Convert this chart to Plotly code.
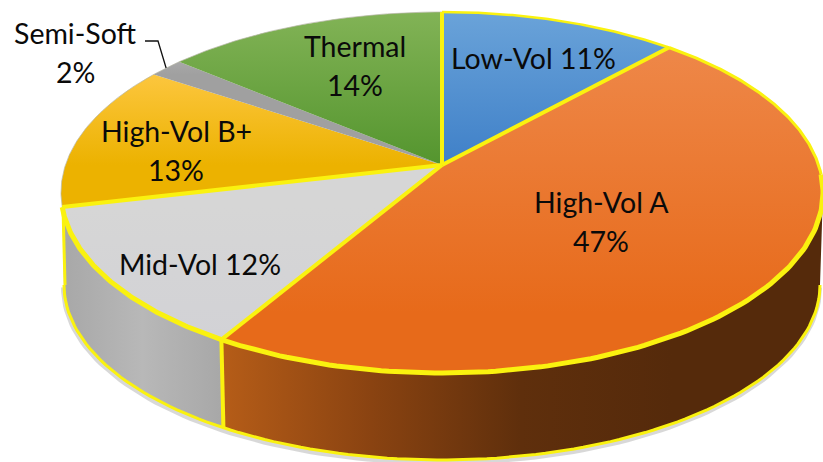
import numpy as np
import plotly.graph_objects as go

# ---- data ----
names = ["Low-Vol", "High-Vol A", "Mid-Vol", "High-Vol B+", "Semi-Soft", "Thermal"]
shares = [11.7, 46.8, 12.8, 13.1, 1.7, 13.9]   # drawn slice sizes
percent_labels = ["11%", "47%", "12%", "13%", "2%", "14%"]

top_start = ["#6AA3D9", "#EE8748", "#D6D6D6", "#FCC63E", "#A8A8A8", "#82B356"]
top_stop = ["#3F80C8", "#E76A1A", "#D2D2D6", "#ECB200", "#A0A0A0", "#54952E"]

# ---- projection of the tilted disc onto the page ----
CX, EY = 442.0, 192.5          # ellipse centre of the top face
A_AX, B_AX = 381.0, 180.5      # semi-axes of the top face
HUB_RISE = 27.5                # hub sits above the ellipse centre
K = HUB_RISE / B_AX
BOT_CY, BOT_A, BOT_B = 285.0, 378.0, 175.0
YELLOW = "#FAF20F"


def top_xy(theta):
    u, v = np.sin(theta), np.cos(theta)
    w = 1 + K * v
    x = CX + A_AX * np.sqrt(1 - K**2) * u / w
    y = EY - (B_AX * v + HUB_RISE) / w
    return x, y


def arc(a, b, n=120):
    return top_xy(np.linspace(a, b, n))


def bottom_arc(phi_a, phi_b, n=120):
    phi = np.linspace(phi_a, phi_b, n)
    return CX + BOT_A * np.cos(phi), BOT_CY + BOT_B * np.sin(phi)


def phi_of(theta):
    x, _ = top_xy(np.array([theta]))
    return float(np.arccos(np.clip((x[0] - CX) / BOT_A, -1, 1)))


total = sum(shares)
edges = 2 * np.pi * np.cumsum([0] + shares) / total
hub_x, hub_y = CX, EY - HUB_RISE
RIGHT_T = np.arccos(-K)

fig = go.Figure()


def poly(x, y, stops, kind, start, stop):
    fig.add_trace(go.Scatter(
        x=x, y=y, mode="lines", fill="toself", line=dict(width=0), hoverinfo="skip",
        fillgradient=dict(type=kind, start=start, stop=stop,
                          colorscale=[[i / (len(stops) - 1), c] for i, c in enumerate(stops)]),
    ))


def stroke(x, y, width, color=YELLOW, opacity=1.0):
    fig.add_trace(go.Scatter(x=x, y=y, mode="lines", hoverinfo="skip", opacity=opacity,
                             line=dict(color=color, width=width)))


# soft shadow under the rim
sx, sy = bottom_arc(0, np.pi)
stroke(sx - 0.5, sy + 2.5, 5, "#808080", 0.3)

# rim walls
split = edges[2]
left_end = edges[3]
phi_split = phi_of(split)
tx, ty = arc(RIGHT_T, split)
bx, by = bottom_arc(phi_split, 0)
poly(np.r_[tx, bx], np.r_[ty, by], ["#B65D18", "#8A4311", "#5F2F0C", "#552A0B", "#552A0B"],
     "horizontal", 220, 823)
tx2, ty2 = arc(split, left_end)
bx2, by2 = bottom_arc(np.pi, phi_split)
poly(np.r_[tx2, bx2], np.r_[ty2, by2], ["#A8A8A8", "#B8B8B8", "#A8A8A8"], "horizontal", 65, 220)

# rim outlines
stroke(*bottom_arc(0, np.pi), 3)
vx = top_xy(np.array([split]))
stroke([vx[0][0], vx[0][0] + 2], [vx[1][0], BOT_CY + BOT_B * np.sin(phi_split)], 4)
stroke([CX - BOT_A - 1, CX - BOT_A + 1], [ty2[-1], BOT_CY], 3)

# top face
for i in range(len(names)):
    ax, ay = arc(edges[i], edges[i + 1])
    poly(np.r_[hub_x, ax, hub_x], np.r_[hub_y, ay, hub_y], [top_start[i], top_stop[i]],
         "vertical", float(ay.min()) if i != 1 else 50, hub_y if i in (0, 3, 5) else float(ay.max()) - 60 * (i == 1))

# thin grey edge on the unoutlined slices
stroke(*arc(edges[3], edges[6]), 1, "#B8B8A8", 0.7)

# top face outlines
stroke(*arc(edges[0], edges[1]), 2.5)
stroke(*arc(edges[1], RIGHT_T - 0.1), 3)
stroke(*arc(RIGHT_T - 0.1, edges[2]), 5)
stroke(*arc(edges[2], edges[3]), 5)
for i, w in zip([0, 1, 2, 3], [4, 4, 4, 4]):
    ex, ey = top_xy(np.array([edges[i]]))
    stroke([hub_x, ex[0]], [hub_y, ey[0]], w)

# leader line of the smallest slice
mid = (edges[4] + edges[5]) / 2
lead_x, lead_y = top_xy(np.array([mid]))
stroke([145, 158, lead_x[0]], [41, 41, lead_y[0]], 1.3, "#111111")

label_lines = [
    [(533, 58, f"{names[0]} {percent_labels[0]}")],
    [(601, 202, names[1]), (601, 241, percent_labels[1])],
    [(200, 264, f"{names[2]} {percent_labels[2]}")],
    [(176, 131, names[3]), (176, 170, percent_labels[3])],
    [(75, 33, names[4]), (75, 72, percent_labels[4])],
    [(355, 46, names[5]), (355, 85, percent_labels[5])],
]
for group in label_lines:
    for x, y, t in group:
        fig.add_annotation(x=x, y=y, text=t, showarrow=False, xanchor="center", yanchor="middle",
                           font=dict(family="Lato", size=28.5, color="#0A0A0A"))

fig.update_layout(
    width=823, height=462, margin=dict(l=0, r=0, t=0, b=0), showlegend=False,
    paper_bgcolor="white", plot_bgcolor="white",
    xaxis=dict(range=[0, 823], visible=False, fixedrange=True),
    yaxis=dict(range=[462, 0], visible=False, fixedrange=True),
)
fig.write_html("out.html", config={"displayModeBar": False},
               post_script="document.body.style.margin='0';document.body.style.overflow='hidden';")
